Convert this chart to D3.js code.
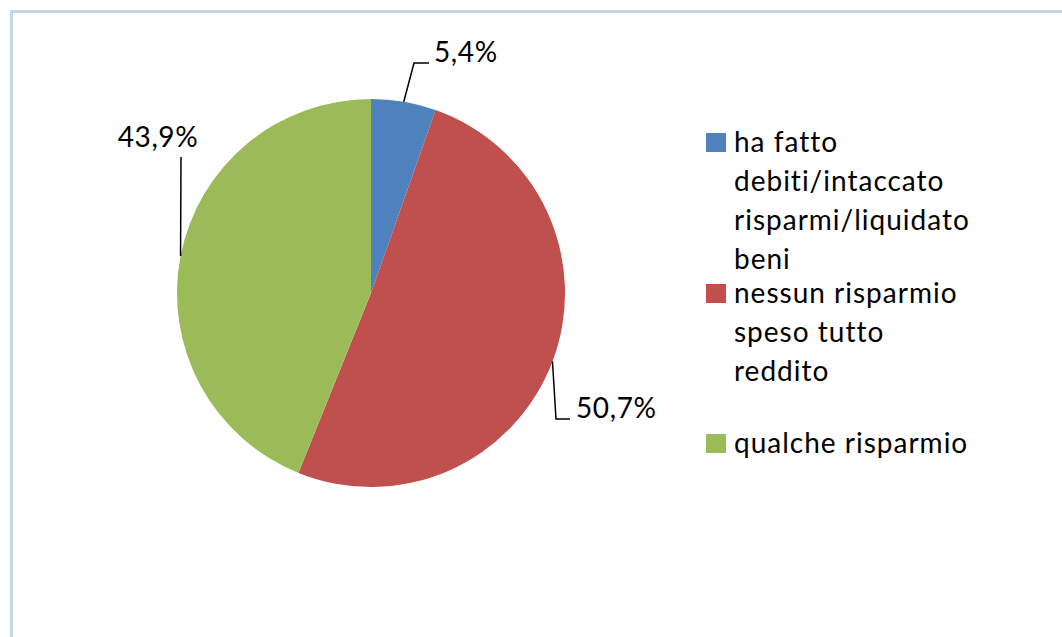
<!DOCTYPE html>
<html>
<head>
<meta charset="utf-8">
<script src="https://cdn.jsdelivr.net/npm/d3@7"></script>
<style>
  body { margin: 0; background: #fff; }
  text { font-family: Lato, "Open Sans", sans-serif; fill: #000; }
</style>
</head>
<body>
<div id="chart"></div>
<script>
// Data
const categories = ["ha fatto debiti/intaccato risparmi/liquidato beni", "nessun risparmio speso tutto reddito", "qualche risparmio"];
const values = [5.4, 50.7, 43.9];
const labels = ["5,4%", "50,7%", "43,9%"];
const legendLines = [
  ["ha fatto", "debiti/intaccato", "risparmi/liquidato", "beni"],
  ["nessun risparmio", "speso tutto", "reddito"],
  ["qualche risparmio"]
];
const colors = ["#4f81bd", "#c0504d", "#9bbb59"];

const width = 1062;
const height = 637;
const cx = 371, cy = 293, radius = 194;

const svg = d3.select("#chart")
  .append("svg")
  .attr("width", width)
  .attr("height", height)
  .attr("viewBox", [0, 0, width, height]);

// chart frame
svg.append("path")
  .attr("d", `M11.5,${height} V11.5 H${width}`)
  .attr("fill", "none")
  .attr("stroke", "#c5d5ea")
  .attr("stroke-width", 3);

const pie = d3.pie().sort(null).value(d => d);
const arcs = pie(values);
const arc = d3.arc().innerRadius(0).outerRadius(radius);

const g = svg.append("g").attr("transform", `translate(${cx},${cy})`);

g.selectAll("path.slice")
  .data(arcs)
  .join("path")
  .attr("class", "slice")
  .attr("d", arc)
  .attr("fill", (d, i) => colors[i]);

// label placement (elbow and text anchor)
const labelLayout = [
  { elbow: [414, 63], end: [429, 63], tx: 434, ty: 62, anchor: "start" },
  { elbow: [556, 419], end: [570, 419], tx: 576, ty: 418, anchor: "start" },
  { elbow: [181, 157], end: [181, 157], tx: 158, ty: 147, anchor: "middle" }
];

arcs.forEach((d, i) => {
  const a = (d.startAngle + d.endAngle) / 2;
  const p0 = [cx + radius * Math.sin(a), cy - radius * Math.cos(a)];
  const L = labelLayout[i];
  svg.append("path")
    .attr("d", d3.line()([p0, L.elbow, L.end]))
    .attr("fill", "none")
    .attr("stroke", "#000")
    .attr("stroke-width", 1.5);
  svg.append("text")
    .attr("x", L.tx)
    .attr("y", L.ty)
    .attr("text-anchor", L.anchor)
    .attr("font-size", 28)
    .attr("letter-spacing", 0.6)
    .text(labels[i]);
});

// Legend
const legendX = 706, lineH = 39;
const entryY = [152, 303, 453];
const legend = svg.append("g");
legendLines.forEach((lines, i) => {
  legend.append("rect")
    .attr("x", legendX)
    .attr("y", entryY[i] - 19)
    .attr("width", 20)
    .attr("height", 19)
    .attr("fill", colors[i]);
  lines.forEach((t, j) => {
    legend.append("text")
      .attr("x", legendX + 28)
      .attr("y", entryY[i] + j * lineH)
      .attr("font-size", 28)
      .attr("letter-spacing", 1)
      .text(t);
  });
});
</script>
</body>
</html>
